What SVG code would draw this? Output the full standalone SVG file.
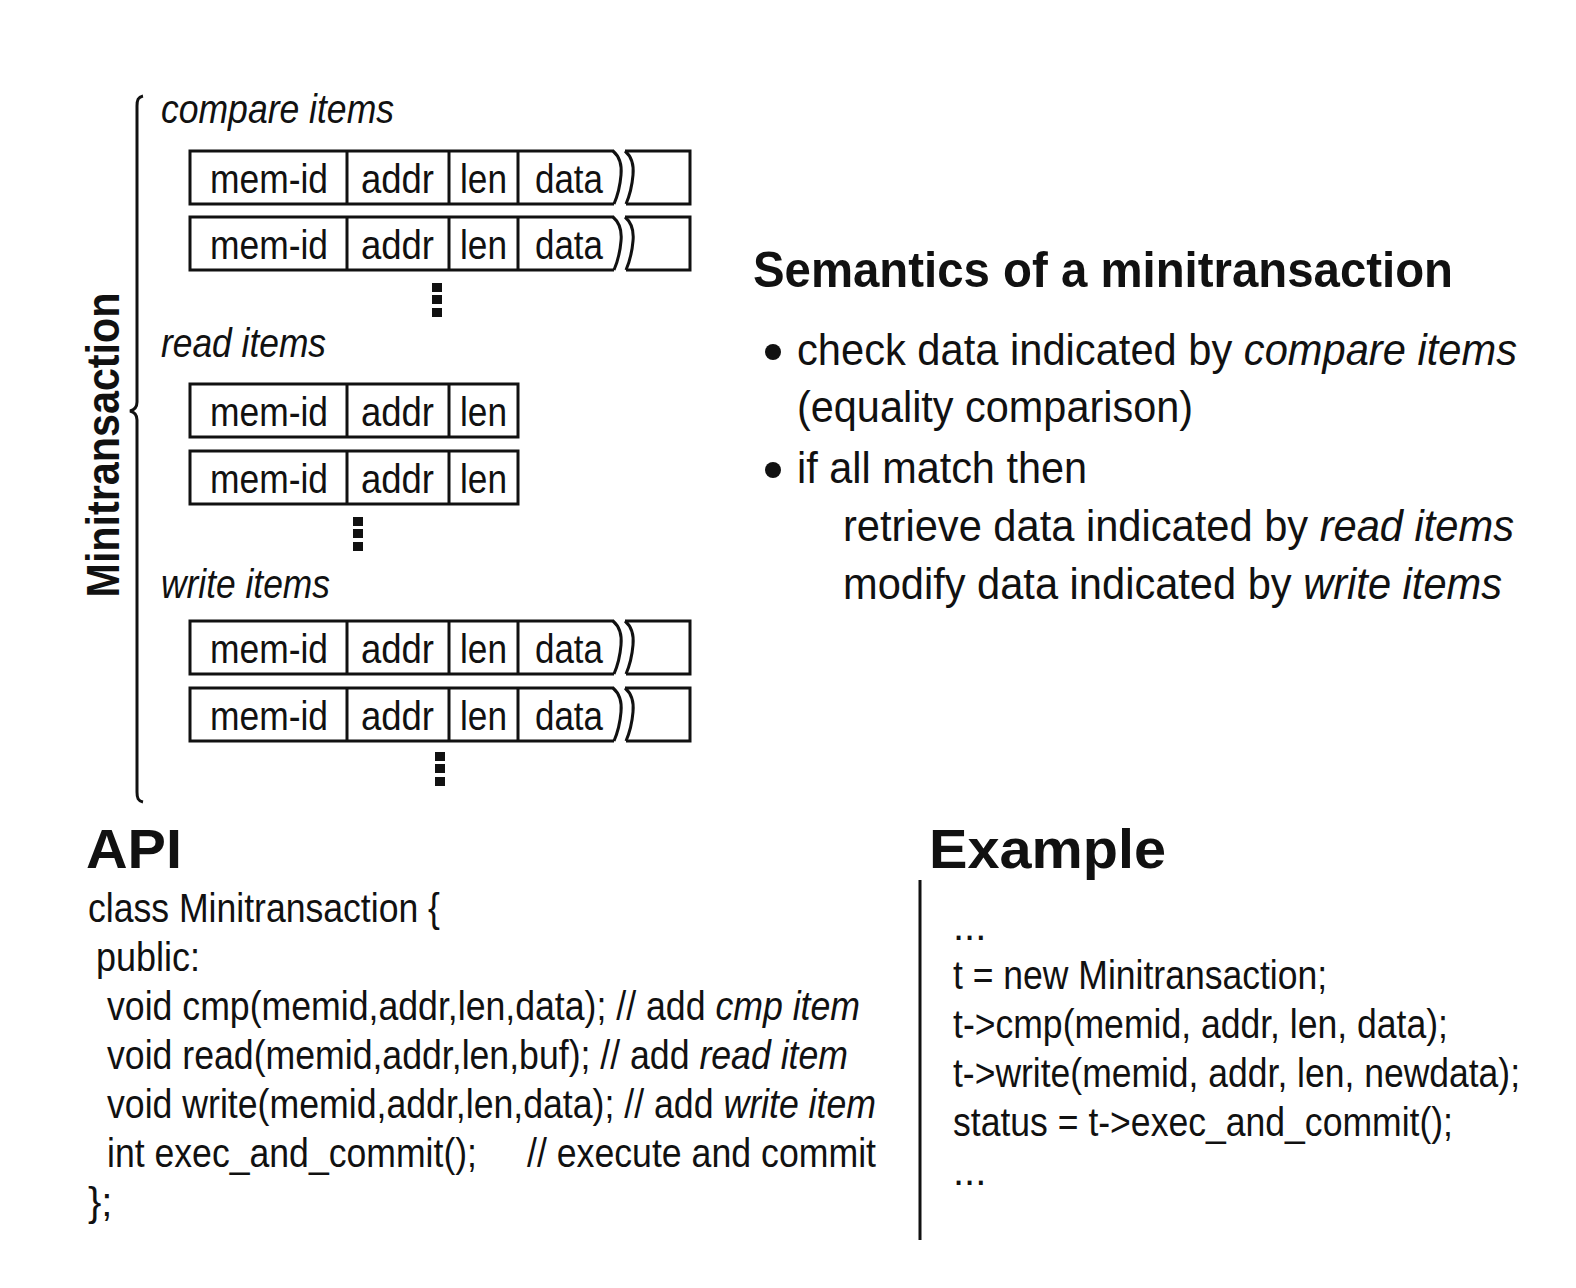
<svg xmlns="http://www.w3.org/2000/svg" width="1576" height="1288" viewBox="0 0 1576 1288">
<style>
.t{font-family:"Liberation Sans",Arial,sans-serif;fill:#111}
.bx{font-size:40px}
.it{font-style:italic}
.ln{fill:none;stroke:#111;stroke-width:3}
</style>
<defs>
<g id="rec4">
<path class="ln" d="M614,0 H190 V53 H614"/>
<path class="ln" d="M347,0 V53 M449,0 V53 M518,0 V53"/>
<path class="ln" d="M613,0 c7,6 9,14 8,24 c-1,12 -4,22 -7,29"/>
<path class="ln" d="M625,0 c7,6 9,14 8,24 c-1,12 -4,22 -7,29"/>
<path class="ln" d="M625,0 H690 V53 H626"/>
<text class="t bx" x="210" y="42" textLength="118" lengthAdjust="spacingAndGlyphs">mem-id</text>
<text class="t bx" x="361" y="42" textLength="73" lengthAdjust="spacingAndGlyphs">addr</text>
<text class="t bx" x="460" y="42" textLength="47" lengthAdjust="spacingAndGlyphs">len</text>
<text class="t bx" x="535" y="42" textLength="68" lengthAdjust="spacingAndGlyphs">data</text>
</g>
<g id="rec3">
<rect class="ln" x="190" y="0" width="328" height="53"/>
<path class="ln" d="M347,0 V53 M449,0 V53"/>
<text class="t bx" x="210" y="42" textLength="118" lengthAdjust="spacingAndGlyphs">mem-id</text>
<text class="t bx" x="361" y="42" textLength="73" lengthAdjust="spacingAndGlyphs">addr</text>
<text class="t bx" x="460" y="42" textLength="47" lengthAdjust="spacingAndGlyphs">len</text>
</g>
<g id="dots"><rect x="-5" y="0" width="10" height="9" fill="#111"/><rect x="-5" y="12" width="10" height="9" fill="#111"/><rect x="-5" y="25" width="10" height="9" fill="#111"/></g>
</defs>
<g id="structure">
<path class="ln" d="M143,96 C138,97 137,100 137,106 V402 C137,408 134,410 130,411 C134,412 137,414 137,420 V792 C137,798 138,801 143,802"/>
<text class="t" font-weight="bold" font-size="46" transform="translate(119,445) rotate(-90)" text-anchor="middle" textLength="305" lengthAdjust="spacingAndGlyphs">Minitransaction</text>
<text class="t it" font-size="40" x="161" y="123" textLength="233" lengthAdjust="spacingAndGlyphs">compare items</text>
<use href="#rec4" y="151"/>
<use href="#rec4" y="217"/>
<use href="#dots" x="437" y="283"/>
<text class="t it" font-size="40" x="161" y="357" textLength="165" lengthAdjust="spacingAndGlyphs">read items</text>
<use href="#rec3" y="384"/>
<use href="#rec3" y="451"/>
<use href="#dots" x="358" y="517"/>
<text class="t it" font-size="40" x="161" y="598" textLength="169" lengthAdjust="spacingAndGlyphs">write items</text>
<use href="#rec4" y="621"/>
<use href="#rec4" y="688"/>
<use href="#dots" x="440" y="752"/>
</g>
<g id="semantics" class="t" font-size="44">
<text x="753" y="287" font-weight="bold" font-size="50" textLength="700" lengthAdjust="spacingAndGlyphs">Semantics of a minitransaction</text>
<circle cx="773" cy="352" r="8" fill="#111"/>
<text x="797" y="365" textLength="720" lengthAdjust="spacingAndGlyphs">check data indicated by <tspan class="it">compare items</tspan></text>
<text x="797" y="422" textLength="396" lengthAdjust="spacingAndGlyphs">(equality comparison)</text>
<circle cx="773" cy="470" r="8" fill="#111"/>
<text x="797" y="483" textLength="290" lengthAdjust="spacingAndGlyphs">if all match then</text>
<text x="843" y="541" textLength="671" lengthAdjust="spacingAndGlyphs">retrieve data indicated by <tspan class="it">read items</tspan></text>
<text x="843" y="599" textLength="659" lengthAdjust="spacingAndGlyphs">modify data indicated by <tspan class="it">write items</tspan></text>
</g>
<g id="api" class="t" font-size="40">
<text x="86" y="868" font-weight="bold" font-size="56" textLength="96" lengthAdjust="spacingAndGlyphs">API</text>
<text x="88" y="922" textLength="352" lengthAdjust="spacingAndGlyphs">class Minitransaction {</text>
<text x="96" y="971" textLength="104" lengthAdjust="spacingAndGlyphs">public:</text>
<text x="107" y="1020" textLength="753" lengthAdjust="spacingAndGlyphs">void cmp(memid,addr,len,data); // add <tspan class="it">cmp item</tspan></text>
<text x="107" y="1069" textLength="741" lengthAdjust="spacingAndGlyphs">void read(memid,addr,len,buf); // add <tspan class="it">read item</tspan></text>
<text x="107" y="1118" textLength="769" lengthAdjust="spacingAndGlyphs">void write(memid,addr,len,data); // add <tspan class="it">write item</tspan></text>
<text x="107" y="1167" textLength="370" lengthAdjust="spacingAndGlyphs">int exec_and_commit();</text>
<text x="527" y="1167" textLength="349" lengthAdjust="spacingAndGlyphs">// execute and commit</text>
<text x="88" y="1216">};</text>
</g>
<g id="example" class="t" font-size="40">
<text x="929" y="868" font-weight="bold" font-size="56" textLength="237" lengthAdjust="spacingAndGlyphs">Example</text>
<path class="ln" d="M920,880 V1240"/>
<text x="953" y="940">...</text>
<text x="953" y="989" textLength="374" lengthAdjust="spacingAndGlyphs">t = new Minitransaction;</text>
<text x="953" y="1038" textLength="495" lengthAdjust="spacingAndGlyphs">t-&gt;cmp(memid, addr, len, data);</text>
<text x="953" y="1087" textLength="567" lengthAdjust="spacingAndGlyphs">t-&gt;write(memid, addr, len, newdata);</text>
<text x="953" y="1136" textLength="500" lengthAdjust="spacingAndGlyphs">status = t-&gt;exec_and_commit();</text>
<text x="953" y="1185">...</text>
</g>
</svg>
